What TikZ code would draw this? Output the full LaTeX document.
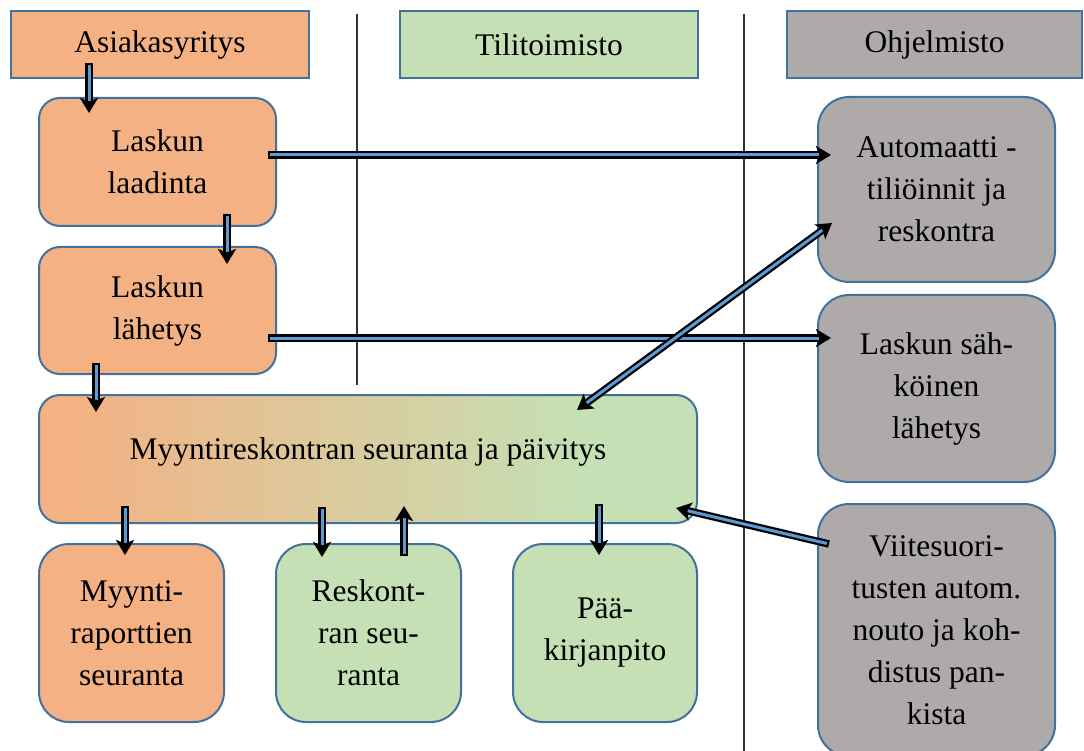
\documentclass[tikz,border=0pt]{standalone}
\usepackage{fontspec}
\setmainfont{Liberation Serif}
\usetikzlibrary{arrows.meta,calc}

\definecolor{boxorange}{HTML}{F4B183}
\definecolor{boxgreen}{HTML}{C5E0B4}
\definecolor{boxgray}{HTML}{AEAAAA}
\definecolor{edgeblue}{HTML}{41719C}
\definecolor{flowblue}{HTML}{5B9BD5}

% orange on the left fading into green on the right
\pgfdeclarehorizontalshading{orangetogreen}{100bp}{%
  color(0bp)=(boxorange); color(27bp)=(boxorange);
  color(66bp)=(boxgreen); color(100bp)=(boxgreen)}

\begin{document}
\begin{tikzpicture}[x=1pt,y=-1pt,
  every node/.style={font=\fontsize{31.5}{42}\selectfont, align=center, inner sep=0pt},
  hdr/.style={draw=edgeblue, line width=2pt, minimum width=298, minimum height=67},
  rbox/.style={draw=edgeblue, line width=2pt},
  divider/.style={draw=black!80, line width=1.2pt},
  flow/.style={draw=flowblue, line width=3pt, shorten >=12pt, shorten <=2.2pt,
    preaction={draw=black, line width=7.5pt, shorten >=0pt, shorten <=0pt,
      -{Stealth[length=15pt,width=18pt,inset=3.5pt]}}},
  flowboth/.style={draw=flowblue, line width=3pt, shorten >=12pt, shorten <=12pt,
    preaction={draw=black, line width=7.5pt, shorten >=0pt, shorten <=0pt,
      {Stealth[length=15pt,width=18pt,inset=3.5pt]}-{Stealth[length=15pt,width=18pt,inset=3.5pt]}}}
]
\useasboundingbox (0,0) rectangle (1084,751);

% column dividers
\draw[divider] (357,14) -- (357,385);
\draw[divider] (744,14) -- (744,751);

% column headers
\node[hdr, fill=boxorange] (hdrA) at (160,44.5) {Asiakasyritys};
\node[hdr, fill=boxgreen]  (hdrT) at (549,44.5) {Tilitoimisto};
\node[hdr, fill=boxgray, minimum width=295] (hdrO) at (934.5,44.5) {Ohjelmisto};

% customer steps
\node[rbox, fill=boxorange, minimum width=237, minimum height=128, rounded corners=21]
  (laad) at (157.5,162) {Laskun\\laadinta};
\node[rbox, fill=boxorange, minimum width=237, minimum height=127, rounded corners=21]
  (lah) at (157.5,310.5) {Laskun\\lähetys};

% shared ledger follow-up
\node[rbox, shading=orangetogreen, minimum width=658, minimum height=128, rounded corners=21]
  (myre) at (368,459) {};
\node at (368,452) {Myyntireskontran seuranta ja päivitys};

% bottom row
\node[rbox, fill=boxorange, minimum width=185, minimum height=178, rounded corners=30]
  (rap) at (131.5,633) {Myynti-\\raporttien\\seuranta};
\node[rbox, fill=boxgreen, minimum width=185, minimum height=178, rounded corners=30]
  (resk) at (368.5,633) {Reskont-\\ran seu-\\ranta};
\node[rbox, fill=boxgreen, minimum width=184, minimum height=178, rounded corners=30]
  (paa) at (605,633) {Pää-\\kirjanpito};

% software column
\node[rbox, fill=boxgray, minimum width=237, minimum height=185, rounded corners=31]
  (auto) at (936.5,189.5) {Automaatti -\\tiliöinnit ja\\reskontra};
\node[rbox, fill=boxgray, minimum width=237, minimum height=187, rounded corners=31]
  (sahk) at (936.5,388.5) {Laskun säh-\\köinen\\lähetys};
\node[rbox, fill=boxgray, minimum width=237, minimum height=252, rounded corners=31]
  (viite) at (936.5,630) {};
\node at (936.5,630) {Viitesuori-\\tusten autom.\\nouto ja koh-\\distus pan-\\kista};

% connectors
\draw[flow] ($(hdrA.south west)+(79,-16)$) -- ($(laad.north west)+(51,16)$);
\draw[flow] ($(laad.south west)+(189,-13)$) -- ($(lah.north west)+(189,18)$);
\draw[flow] ($(lah.south west)+(58,-12)$) -- ($(myre.north west)+(58,18)$);
\draw[flow] ($(laad.east)+(-9,-7)$) -- ($(auto.west)+(14,-34.5)$);
\draw[flow] ($(lah.east)+(-9,27.5)$) -- ($(sahk.west)+(14,-50.5)$);
\draw[flowboth] ($(myre.north west)+(539,16)$) -- ($(auto.south west)+(15,-60)$);
\draw[flow] ($(myre.south west)+(87,-18)$) -- ($(rap.north west)+(87,12)$);
\draw[flow] ($(myre.south west)+(284,-17)$) -- ($(resk.north west)+(47,14)$);
\draw[flow] ($(resk.north west)+(129,13)$) -- ($(myre.south west)+(366,-18)$);
\draw[flow] ($(myre.south west)+(561,-20)$) -- ($(paa.north west)+(87,12)$);
\draw[flow] ($(viite.north west)+(12,41)$) -- ($(myre.south east)+(-22,-16)$);
\end{tikzpicture}
\end{document}
